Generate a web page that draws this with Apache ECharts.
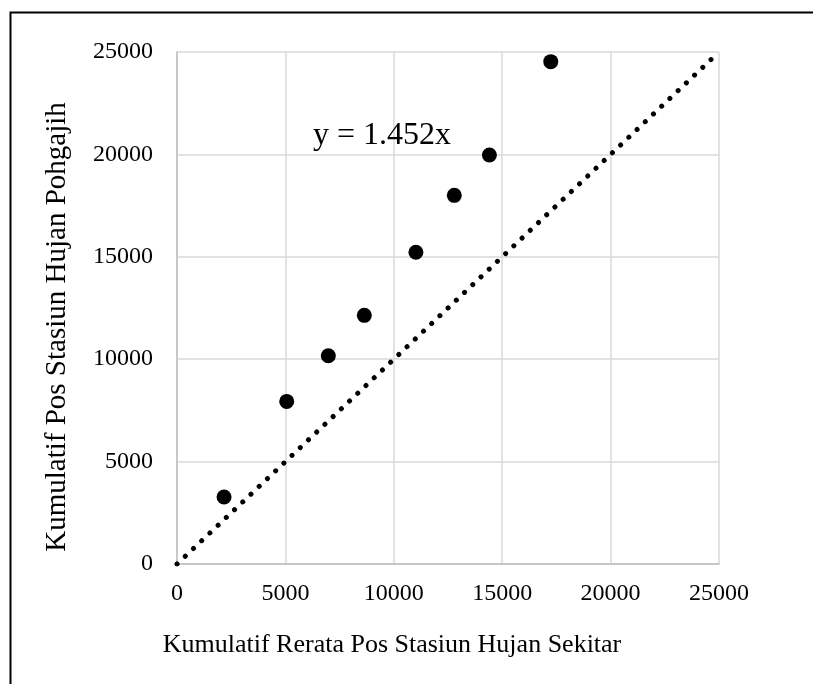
<!DOCTYPE html>
<html>
<head>
<meta charset="utf-8">
<script src="https://cdn.jsdelivr.net/npm/echarts@6/dist/echarts.min.js"></script>
<style>
    html,body{margin:0;padding:0;background:#fff;}
    #chart{width:813px;height:684px;}
</style>
</head>
<body>
<div id="chart"></div>
<script>
    // observed points
    const xVals = [2170, 5060, 6980, 8640, 11020, 12790, 14410, 17240]
    const yVals = [3270, 7940, 10170, 12140, 15220, 18000, 19970, 24530]
    // dotted reference line ends
    const lineX = [0, 24700]
    const lineY = [0, 24700]
    const eqText = 'y = 1.452x'
    const axisTitleX = 'Kumulatif Rerata Pos Stasiun Hujan Sekitar'
    const axisTitleY = 'Kumulatif Pos Stasiun Hujan Pohgajih'

    const font = 'Liberation Serif'
    const eqAt = [6270, 20900]

    const chart = echarts.init(document.getElementById('chart'))
    chart.setOption({
        animation:false,
        graphic:[{
            type:'rect',
            left:8, top:10,
            shape:{width:900, height:800},
            style:{fill:'none', stroke:'#000', lineWidth:2},
            silent:true
        }],
        grid:{left:177, right:94, top:52, bottom:120},
        xAxis:{
            type:'value',
            min:0, max:25000, interval:5000,
            name:axisTitleX,
            nameLocation:'middle',
            nameGap:68,
            // title sits left of the axis centre in the original
            nameTextStyle:{fontFamily:font, fontSize:26, color:'#000', padding:[0,112,0,0]},
            axisLine:{show:true, lineStyle:{color:'#bfbfbf', width:1.5}},
            axisTick:{show:false},
            axisLabel:{fontFamily:font, fontSize:24, color:'#000', margin:18, formatter:v=>String(v)},
            splitLine:{show:true, lineStyle:{color:'#d9d9d9', width:1.5}}
        },
        yAxis:{
            type:'value',
            min:0, max:25000, interval:5000,
            name:axisTitleY,
            nameLocation:'middle',
            nameGap:105,
            nameTextStyle:{fontFamily:font, fontSize:29, color:'#000', padding:[0,38,0,0]},
            axisLine:{show:true, lineStyle:{color:'#bfbfbf', width:1.5}},
            axisTick:{show:false},
            axisLabel:{fontFamily:font, fontSize:24, color:'#000', margin:24, formatter:v=>String(v)},
            splitLine:{show:true, lineStyle:{color:'#d9d9d9', width:1.5}}
        },
        series:[
            {
                type:'line',
                data:lineX.map((x,i)=>[x, lineY[i]]),
                symbol:'none',
                lineStyle:{color:'#000', width:5, type:[0.1, 11.2], cap:'round'},
                z:2
            },
            {
                type:'scatter',
                data:xVals.map((x,i)=>[x, yVals[i]]),
                symbol:'circle',
                symbolSize:15,
                itemStyle:{color:'#000', opacity:1},
                z:3
            },
            {
                type:'scatter',
                data:[eqAt],
                symbolSize:0,
                itemStyle:{opacity:1},
                label:{
                    show:true,
                    position:'right',
                    distance:0,
                    formatter:eqText,
                    fontFamily:font,
                    fontSize:32,
                    color:'#000'
                },
                z:4
            }
        ]
    })
</script>
</body>
</html>
